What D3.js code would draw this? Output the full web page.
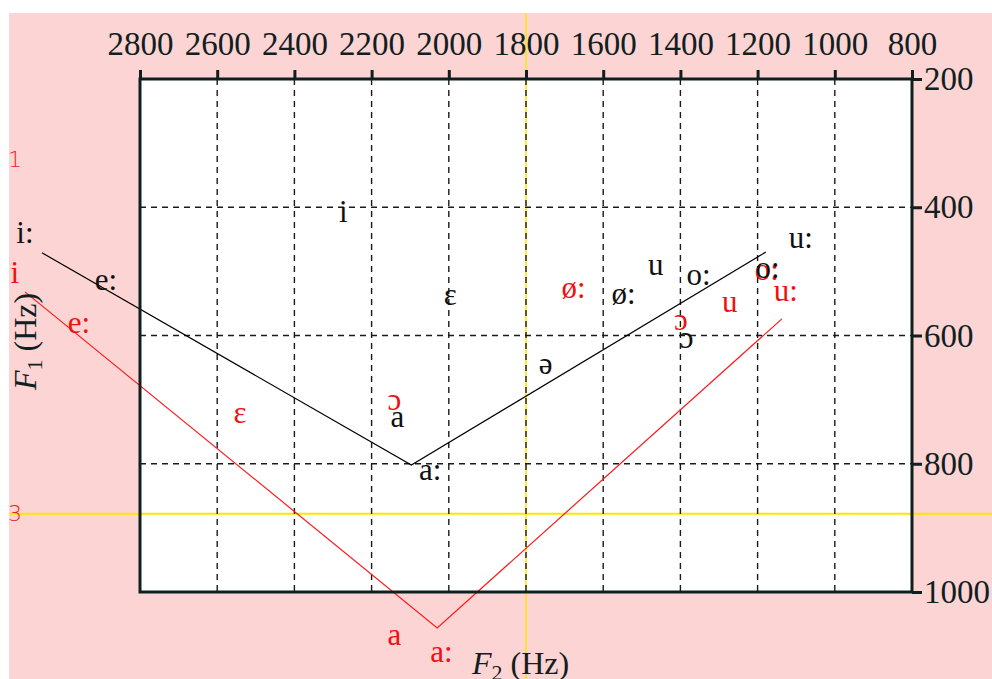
<!DOCTYPE html>
<html>
<head>
<meta charset="utf-8">
<script src="https://d3js.org/d3.v7.min.js"></script>
<style>
  body { margin: 0; background: #fff; }
  svg { display: block; }
</style>
</head>
<body>
<script>

// axis ticks
var f2Ticks = [2800, 2600, 2400, 2200, 2000, 1800, 1600, 1400, 1200, 1000, 800];
var f1Ticks = [200, 400, 600, 800, 1000];

// black vowel set (label, F2, F1)
var blackLabels = ["i:", "e:", "i", "ε", "a", "a:", "ə", "ø:", "u", "o:", "ɔ", "o:", "u:"];
var blackF2 = [3098, 2888, 2273, 1996, 2133, 2048, 1749, 1547, 1464, 1353, 1384, 1174, 1088];
var blackF1 = [456, 529, 423, 552, 743, 825, 660, 551, 506, 521, 620, 510, 464];

// red vowel set
var redLabels = ["i", "e:", "ε", "ɔ", "a", "a:", "ø:", "ɔ", "u", "o:", "u:"];
var redF2 = [3124, 2958, 2541, 2141, 2141, 2019, 1677, 1399, 1272, 1176, 1127];
var redF1 = [518, 596, 736, 716, 1083, 1109, 542, 591, 563, 513, 546];

// vowel triangles (i: -> a: -> u:)
var blackLineF2 = [3054, 2097, 1179];
var blackLineF1 = [471, 802, 470];
var redLineF2 = [3098, 2030, 1137];
var redLineF1 = [532, 1056, 574];

// cursor cross
var cursorF2 = 1800;
var cursorF1 = 878;

var width = 992, height = 679;
var serif = "'Liberation Serif', 'DejaVu Serif', serif";

var svg = d3.select("body").append("svg").attr("width", width).attr("height", height);

var x = d3.scaleLinear().domain([2800, 800]).range([140, 912]);
var y = d3.scaleLinear().domain([200, 1000]).range([79, 592]);

// backgrounds
svg.append("rect").attr("x", 9).attr("y", 13).attr("width", width - 9).attr("height", height - 13).attr("fill", "#fdd4d4");
svg.append("rect").attr("x", x(2800)).attr("y", y(200)).attr("width", x(800) - x(2800)).attr("height", y(1000) - y(200)).attr("fill", "#ffffff");

// yellow cursor lines
svg.append("line").attr("x1", x(cursorF2)).attr("x2", x(cursorF2)).attr("y1", 13).attr("y2", height)
  .attr("stroke", "#ffe600").attr("stroke-width", 1.5);
svg.append("line").attr("x1", 9).attr("x2", width).attr("y1", y(cursorF1)).attr("y2", y(cursorF1))
  .attr("stroke", "#ffe600").attr("stroke-width", 2);

// dashed grid
svg.append("g").selectAll("line").data(f2Ticks.slice(1, -1)).join("line")
  .attr("x1", d => x(d)).attr("x2", d => x(d)).attr("y1", y(200)).attr("y2", y(1000))
  .attr("stroke", "#1a1a1a").attr("stroke-width", 1.4).attr("stroke-dasharray", "6,5");
svg.append("g").selectAll("line").data(f1Ticks.slice(1, -1)).join("line")
  .attr("x1", x(2800)).attr("x2", x(800)).attr("y1", d => y(d)).attr("y2", d => y(d))
  .attr("stroke", "#1a1a1a").attr("stroke-width", 1.4).attr("stroke-dasharray", "6,5");

// triangle lines
var line = d3.line().x(d => x(d[0])).y(d => y(d[1]));
svg.append("path").datum(d3.zip(blackLineF2, blackLineF1)).attr("d", line)
  .attr("fill", "none").attr("stroke", "#000").attr("stroke-width", 1.2);
svg.append("path").datum(d3.zip(redLineF2, redLineF1)).attr("d", line)
  .attr("fill", "none").attr("stroke", "#ff1a1a").attr("stroke-width", 1.2);

// vowel labels
svg.append("g").selectAll("text").data(d3.zip(redLabels, redF2, redF1)).join("text")
  .attr("x", d => x(d[1])).attr("y", d => y(d[2])).attr("text-anchor", "middle")
  .style("font-family", serif).style("font-size", "31px").attr("fill", "#ee1111")
  .text(d => d[0]);
svg.append("g").selectAll("text").data(d3.zip(blackLabels, blackF2, blackF1)).join("text")
  .attr("x", d => x(d[1])).attr("y", d => y(d[2])).attr("text-anchor", "middle")
  .style("font-family", serif).style("font-size", "31px").attr("fill", "#111")
  .text(d => d[0]);

// plot frame
svg.append("rect").attr("x", x(2800)).attr("y", y(200)).attr("width", x(800) - x(2800)).attr("height", y(1000) - y(200))
  .attr("fill", "none").attr("stroke", "#0e1f1f").attr("stroke-width", 3);

// axes
var topAxis = svg.append("g").attr("transform", "translate(0," + y(200) + ")")
  .call(d3.axisTop(x).tickValues(f2Ticks).tickFormat(d3.format("d")).tickSize(9).tickPadding(15));
var rightAxis = svg.append("g").attr("transform", "translate(" + x(800) + ",0)")
  .call(d3.axisRight(y).tickValues(f1Ticks).tickFormat(d3.format("d")).tickSize(10).tickPadding(2));
[topAxis, rightAxis].forEach(function(a) {
  a.select(".domain").remove();
  a.selectAll(".tick line").attr("stroke", "#0e1f1f").attr("stroke-width", 3);
  a.selectAll(".tick text").attr("fill", "#102020").style("font-family", serif).style("font-size", "33px");
});

// axis titles
var t2 = svg.append("text").attr("x", 472).attr("y", 674).attr("fill", "#102020")
  .style("font-family", serif).style("font-size", "32px");
t2.append("tspan").style("font-style", "italic").text("F");
t2.append("tspan").attr("dy", 6).style("font-size", "22px").text("2");
t2.append("tspan").attr("dy", -6).text(" (Hz)");

var t1 = svg.append("text").attr("transform", "translate(36,390) rotate(-90)").attr("fill", "#102020")
  .style("font-family", serif).style("font-size", "32px");
t1.append("tspan").style("font-style", "italic").text("F");
t1.append("tspan").attr("dy", 6).style("font-size", "22px").text("1");
t1.append("tspan").attr("dy", -6).text(" (Hz)");

// small red markers on the left edge
svg.append("text").attr("x", 8).attr("y", 167).attr("fill", "#ee2222")
  .style("font-family", "'DejaVu Sans', sans-serif").style("font-size", "22px").style("font-weight", "300").text("1");
svg.append("text").attr("x", 8).attr("y", 521).attr("fill", "#ee2222")
  .style("font-family", "'DejaVu Sans', sans-serif").style("font-size", "22px").style("font-weight", "300").text("3");

// white margins
svg.append("rect").attr("x", 0).attr("y", 0).attr("width", width).attr("height", 13).attr("fill", "#fff");
svg.append("rect").attr("x", 0).attr("y", 0).attr("width", 9).attr("height", height).attr("fill", "#fff");

</script>
</body>
</html>
